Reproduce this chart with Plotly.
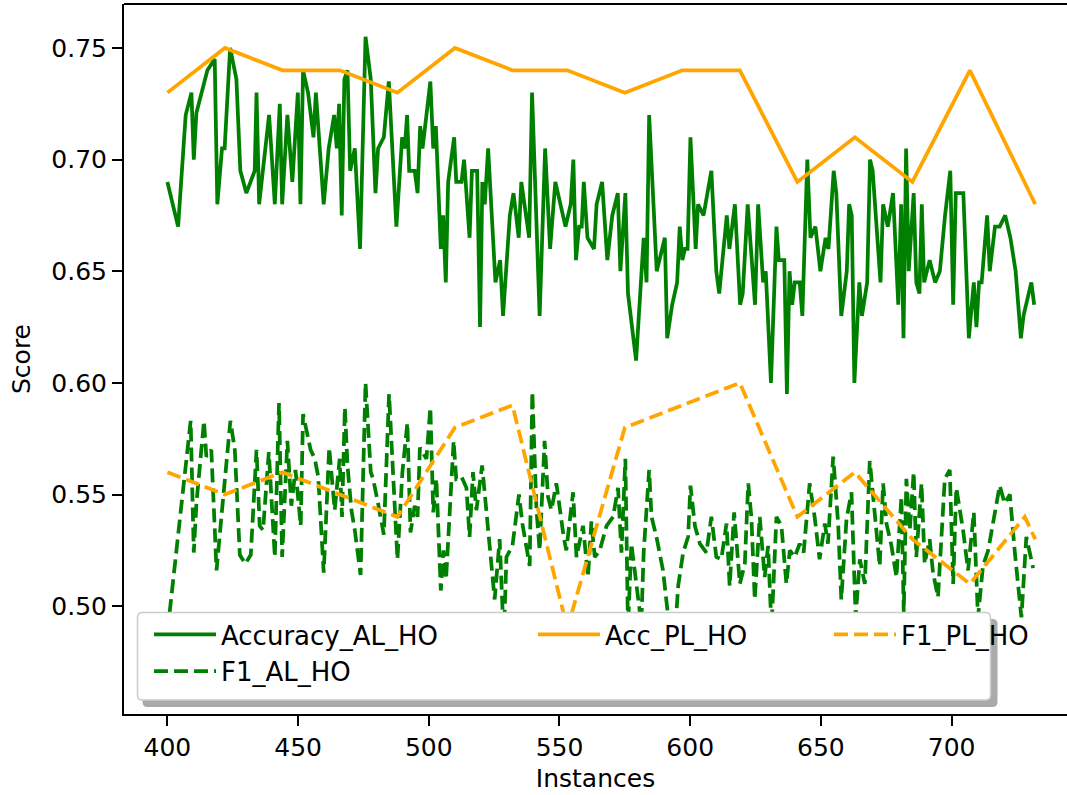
import plotly.graph_objects as go

# ---------------- data ----------------
acc_al_x = [400, 404.1, 407, 409.2, 410.1, 411.1, 415.3, 417.1, 418.1, 419.1, 420.9, 421.9, 424, 426.4, 427.9,
            430.2, 433.4, 434.1, 435.1, 438.9, 441.1, 443, 443.9, 445.9, 447.8, 449.9, 450.9, 451.9, 453.8,
            455.9, 456.8, 459.8, 461.7, 463.8, 464.8, 465.7, 466.7, 467.7, 468.9, 469.9, 471.7, 473.7, 475.8,
            477.8, 479.6, 480.6, 482.8, 484.7, 487.6, 489.8, 490.8, 491.7, 492.5, 494.6, 495.7, 496.7, 497.6,
            500.6, 501.7, 502.7, 504.6, 505.5, 506.5, 507.4, 509.7, 510.5, 512.5, 513.5, 515.6, 516.5, 518.5,
            519.6, 520.5, 521.4, 522.7, 525.5, 527.3, 528.4, 531, 532.4, 534.4, 535.4, 537.3, 538.4, 539.5,
            542.4, 544.5, 546.4, 548.4, 552.3, 554.3, 555.3, 556.3, 557.5, 558.5, 559.3, 560.7, 563.2, 564.2,
            566.3, 568.3, 570.2, 572.3, 573.3, 575.2, 576.2, 579.3, 582.2, 583.3, 584.3, 587.2, 589.2, 590.3,
            591.2, 593.1, 595, 596, 597, 598, 599, 600.1, 602.1, 603, 605.1, 608.1, 610, 611.1, 614, 615,
            617.1, 619.1, 620.1, 622, 624.8, 626, 627.9, 628.9, 630.9, 633, 633.9, 636, 637, 638, 639, 640,
            641.9, 642.9, 644.8, 646, 647.9, 649.8, 651.8, 652.9, 654.9, 655.9, 657.8, 659.9, 660.8, 661.8,
            662.8, 664.7, 665.7, 667.7, 668.8, 669.8, 672.8, 673.8, 675.6, 677.6, 679.6, 680.7, 681.6, 682.6,
            683.6, 685.5, 686.5, 687.7, 688.6, 689.5, 691.6, 693.7, 695.5, 697.5, 699.5, 700.6, 701.6, 704.5,
            706.6, 708.5, 709.5, 710.5, 711.5, 713.6, 714.6, 716.6, 718.4, 720.5, 722.5, 724.5, 726.5, 727.5,
            730.5, 731.6]
acc_al_y = [0.690, 0.670, 0.720, 0.730, 0.700, 0.721, 0.740, 0.743, 0.745, 0.680, 0.705, 0.705, 0.750, 0.736, 0.695,
            0.685, 0.695, 0.730, 0.680, 0.720, 0.680, 0.725, 0.680, 0.720, 0.690, 0.730, 0.680, 0.740, 0.730,
            0.710, 0.730, 0.680, 0.705, 0.720, 0.705, 0.725, 0.675, 0.736, 0.740, 0.695, 0.705, 0.660, 0.755,
            0.736, 0.685, 0.705, 0.710, 0.735, 0.670, 0.710, 0.705, 0.720, 0.695, 0.695, 0.685, 0.715, 0.705,
            0.735, 0.705, 0.715, 0.660, 0.675, 0.645, 0.690, 0.710, 0.690, 0.690, 0.700, 0.665, 0.695, 0.695,
            0.625, 0.690, 0.680, 0.705, 0.645, 0.655, 0.630, 0.675, 0.685, 0.665, 0.690, 0.675, 0.665, 0.730,
            0.630, 0.705, 0.660, 0.690, 0.670, 0.680, 0.700, 0.655, 0.670, 0.670, 0.690, 0.665, 0.660, 0.680,
            0.690, 0.655, 0.675, 0.685, 0.650, 0.685, 0.640, 0.610, 0.665, 0.645, 0.720, 0.650, 0.660, 0.665,
            0.620, 0.635, 0.645, 0.670, 0.655, 0.660, 0.660, 0.710, 0.660, 0.680, 0.675, 0.695, 0.650, 0.640, 0.675, 0.660,
            0.680, 0.635, 0.640, 0.680, 0.635, 0.680, 0.645, 0.650, 0.600, 0.670, 0.655, 0.655, 0.595, 0.650, 0.635, 0.645,
            0.645, 0.630, 0.700, 0.665, 0.670, 0.650, 0.665, 0.660, 0.695, 0.685, 0.630, 0.650, 0.680, 0.675,
            0.600, 0.645, 0.630, 0.645, 0.700, 0.695, 0.645, 0.680, 0.670, 0.685, 0.635, 0.680, 0.620, 0.705,
            0.650, 0.685, 0.645, 0.640, 0.680, 0.645, 0.655, 0.645, 0.650, 0.675, 0.695, 0.635, 0.685, 0.685,
            0.620, 0.645, 0.625, 0.645, 0.645, 0.675, 0.650, 0.670, 0.670, 0.675, 0.665, 0.650, 0.620, 0.630,
            0.645, 0.635]

f1_al_x = [400, 408.9, 410.1, 411.1, 414, 414.9, 416.8, 418.8, 420.9, 424.1, 425.8, 427.7, 429.8, 431.9, 434.1,
           435.3, 436.6, 438.8, 441.1, 442.7, 443.9, 445.9, 447.4, 449, 451, 451.9, 454.8, 456.4, 457.7, 459.8,
           461.9, 464, 465.9, 466.8, 467.9, 468.9, 470.4, 471.7, 473.9, 475.8, 477.8, 478.7, 480.6, 482.8,
           484.8, 486.7, 488, 489.9, 491.8, 493, 494.6, 495.7, 496.6, 499.1, 500.6, 501.7, 502.9, 504.6,
           505.6, 506.6, 509.5, 510.5, 512.5, 514.4, 515.6, 516.9, 518.2, 520.4, 522, 525.2, 527.1, 528.7,
           529.7, 532, 534.5, 535.8, 538.6, 539.6, 541.2, 542.4, 544.3, 545.6, 546.9, 548.8, 551.6, 552.6,
           555.2, 556.5, 559, 560.9, 562.2, 563.5, 565.4, 568, 570.5, 572.4, 573.7, 575.2, 576.2, 577.5,
           579.4, 581.3, 582.2, 584.3, 585.2, 587.1, 589.6, 591.5, 593.5, 595.4, 597.3, 599.2, 600.1, 601.8,
           603.7, 606.2, 608.1, 610, 611.9, 613.9, 615.1, 616.8, 619, 620.9, 622.2, 623.4, 624.7, 626.6,
           628.5, 629.8, 631.1, 633, 634.9, 636.8, 638.1, 640, 641.9, 643.4, 645.7, 647.6, 649.5, 651.5,
           652.7, 654.7, 656.6, 657.8, 659.8, 661.7, 663.3, 664.9, 666.8, 668.7, 670.6, 672.5, 673.8, 675.1,
           677, 678.9, 680.8, 681.7, 682.7, 684, 685.5, 686.5, 688.5, 689.7, 691.6, 692.9, 694.8, 697.4,
           699.3, 700.6, 701.8, 704.4, 706.3, 708.5, 710.1, 712, 714, 715.9, 718.4, 720.3, 722.3, 724.2,
           726.7, 728.6, 731.2]
f1_al_y = [0.488, 0.583, 0.524, 0.546, 0.583, 0.567, 0.570, 0.516, 0.543, 0.583, 0.570, 0.523, 0.519, 0.523, 0.570,
           0.536, 0.534, 0.569, 0.522, 0.591, 0.522, 0.574, 0.545, 0.561, 0.536, 0.586, 0.570, 0.566, 0.558, 0.515,
           0.571, 0.543, 0.566, 0.540, 0.589, 0.563, 0.543, 0.534, 0.514, 0.600, 0.560, 0.557, 0.546, 0.532,
           0.595, 0.547, 0.521, 0.560, 0.582, 0.533, 0.545, 0.540, 0.571, 0.566, 0.589, 0.542, 0.557, 0.507,
           0.525, 0.512, 0.574, 0.557, 0.558, 0.553, 0.531, 0.560, 0.543, 0.563, 0.542, 0.503, 0.530, 0.485,
           0.522, 0.527, 0.550, 0.537, 0.518, 0.596, 0.543, 0.525, 0.574, 0.549, 0.543, 0.555, 0.531, 0.525,
           0.551, 0.522, 0.536, 0.513, 0.538, 0.522, 0.525, 0.536, 0.540, 0.553, 0.524, 0.566, 0.490, 0.528,
           0.510, 0.492, 0.524, 0.561, 0.540, 0.531, 0.516, 0.497, 0.475, 0.509, 0.524, 0.531, 0.554, 0.536,
           0.528, 0.524, 0.540, 0.522, 0.521, 0.537, 0.509, 0.542, 0.510, 0.519, 0.555, 0.540, 0.503, 0.540,
           0.513, 0.527, 0.490, 0.540, 0.536, 0.510, 0.525, 0.522, 0.528, 0.524, 0.555, 0.540, 0.521, 0.537,
           0.528, 0.567, 0.537, 0.503, 0.539, 0.551, 0.495, 0.521, 0.510, 0.565, 0.543, 0.518, 0.555, 0.537,
           0.527, 0.513, 0.549, 0.497, 0.557, 0.534, 0.560, 0.522, 0.555, 0.519, 0.530, 0.515, 0.504, 0.557,
           0.561, 0.510, 0.553, 0.534, 0.516, 0.542, 0.495, 0.518, 0.525, 0.537, 0.554, 0.546, 0.550, 0.524,
           0.495, 0.531, 0.517]

pl_x = [400, 422, 444, 466, 488, 510, 532, 553, 575, 597, 619, 641, 663, 685, 707, 728, 732]
acc_pl_y = [0.73, 0.75, 0.74, 0.74, 0.73, 0.75, 0.74, 0.74, 0.73, 0.74, 0.74, 0.69, 0.71, 0.69, 0.74, 0.69, 0.68]
f1_pl_y = [0.56, 0.55, 0.56, 0.55, 0.54, 0.58, 0.59, 0.49, 0.58, 0.59, 0.60, 0.54, 0.56, 0.53, 0.51, 0.54, 0.53]

x_ticks = [400, 450, 500, 550, 600, 650, 700]
y_ticks = [0.50, 0.55, 0.60, 0.65, 0.70, 0.75]

# ---------------- layout geometry ----------------
W, H = 1067, 795
L, R, T, B = 124, 0, 4, 81
PW, PH = W - L - R, H - T - B
X_RANGE = [383.4, 744.15]
Y_RANGE = [0.4517, 0.7697]
GREEN, ORANGE = "#008000", "#FFA500"
FONT = "DejaVu Sans"
LW = 3.75
DASH = "14px,6px"


def px(xp):
    return (xp - L) / PW


def py(yp):
    return (H - B - yp) / PH


fig = go.Figure()
fig.add_trace(go.Scatter(x=acc_al_x, y=acc_al_y, mode="lines", name="Accuracy_AL_HO",
                         line=dict(color=GREEN, width=LW), legend="legend"))
fig.add_trace(go.Scatter(x=f1_al_x, y=f1_al_y, mode="lines", name="F1_AL_HO",
                         line=dict(color=GREEN, width=LW, dash=DASH), legend="legend"))
fig.add_trace(go.Scatter(x=pl_x, y=acc_pl_y, mode="lines", name="Acc_PL_HO",
                         line=dict(color=ORANGE, width=LW), legend="legend2"))
fig.add_trace(go.Scatter(x=pl_x, y=f1_pl_y, mode="lines", name="F1_PL_HO",
                         line=dict(color=ORANGE, width=LW, dash=DASH), legend="legend3"))


def rrect(x0, y0, x1, y1, r):
    # rounded rectangle path in paper coords, pixel inputs
    return (f"M {px(x0 + r)},{py(y0)} L {px(x1 - r)},{py(y0)} "
            f"Q {px(x1)},{py(y0)} {px(x1)},{py(y0 + r)} L {px(x1)},{py(y1 - r)} "
            f"Q {px(x1)},{py(y1)} {px(x1 - r)},{py(y1)} L {px(x0 + r)},{py(y1)} "
            f"Q {px(x0)},{py(y1)} {px(x0)},{py(y1 - r)} L {px(x0)},{py(y0 + r)} "
            f"Q {px(x0)},{py(y0)} {px(x0 + r)},{py(y0)} Z")


shapes = [
    # top spine
    dict(type="line", xref="paper", yref="paper", x0=0, x1=1, y0=1, y1=1,
         line=dict(color="black", width=2), layer="above"),
    # legend shadow
    dict(type="path", xref="paper", yref="paper", path=rrect(142.5, 619, 997.5, 707, 5),
         fillcolor="#aaaaaa", line=dict(width=0), layer="above"),
    # legend frame
    dict(type="path", xref="paper", yref="paper", path=rrect(137.5, 612.5, 990.5, 700, 5),
         fillcolor="white", line=dict(color="#cccccc", width=1.5), layer="above"),
]

leg_common = dict(bgcolor="rgba(0,0,0,0)", borderwidth=0, font=dict(family=FONT, size=26, color="black"),
                  xanchor="left", yanchor="top", itemwidth=62, tracegroupgap=0)

fig.update_layout(
    width=W, height=H,
    margin=dict(l=L, r=R, t=T, b=B),
    paper_bgcolor="white", plot_bgcolor="white",
    font=dict(family=FONT, size=25, color="black"),
    showlegend=True,
    legend=dict(x=px(149), y=py(611), **leg_common),
    legend2=dict(x=px(533), y=py(611), **leg_common),
    legend3=dict(x=px(829), y=py(611), **leg_common),
    xaxis=dict(range=X_RANGE, tickvals=x_ticks, ticks="outside", ticklen=10, tickwidth=2,
               tickcolor="black", showline=True, linecolor="black", linewidth=2, showgrid=False,
               zeroline=False, tickfont=dict(family=FONT, size=25),
               title=dict(text="Instances", font=dict(family=FONT, size=25), standoff=8)),
    yaxis=dict(range=Y_RANGE, tickvals=y_ticks, tickformat=".2f", ticks="outside", ticklen=10,
               tickwidth=2, tickcolor="black", showline=True, linecolor="black", linewidth=2,
               showgrid=False, zeroline=False, tickfont=dict(family=FONT, size=25),
               title=dict(text="Score", font=dict(family=FONT, size=25), standoff=14)),
    shapes=shapes,
)

fig.write_html("out.html")
